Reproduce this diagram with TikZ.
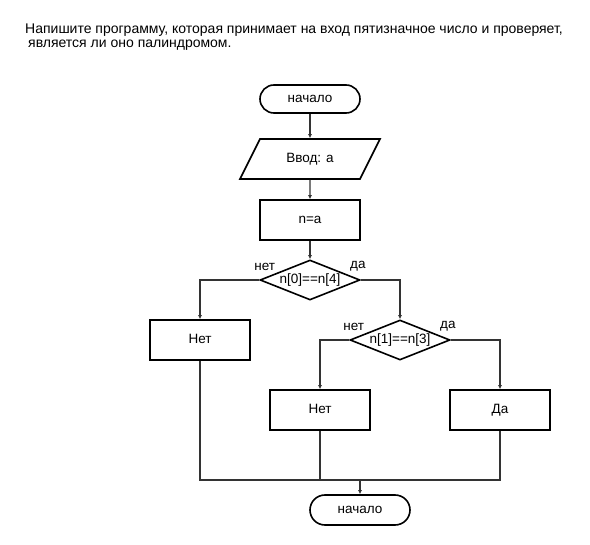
\documentclass[tikz,border=0pt]{standalone}
\usepackage{fontspec}
\setmainfont{Liberation Sans}
\usetikzlibrary{shapes.geometric,arrows.meta,positioning}

\definecolor{linegray}{HTML}{333333}

\tikzset{
	block/.style={draw,line width=1.6pt,minimum width=100pt,minimum height=40pt,inner sep=0pt,text height=10pt,text depth=3pt,font=\fontsize{13.5}{16}\selectfont},
	term/.style={block,rounded corners=14pt,minimum height=28pt},
	io/.style={block,trapezium,trapezium left angle=63.43,trapezium right angle=116.57,trapezium stretches body,inner ysep=13.5pt,minimum height=0pt,minimum width=140pt},
	cond/.style={block,diamond,aspect=2.5,minimum width=100pt,minimum height=40pt},
	lbl/.style={inner sep=0pt,font=\fontsize{13.5}{16}\selectfont},
	flow/.style={draw=linegray,line width=1.4pt},
	arr/.style={flow,-{Latex[length=4pt,width=4pt]}}
}

\begin{document}
\begin{tikzpicture}[x=1pt,y=-1pt]
	\useasboundingbox (0,0) rectangle (590,545);
	\node[anchor=base west,inner sep=0pt,font=\fontsize{14}{16}\selectfont] (taskone) at (25,34)
		{Напишите программу, которая принимает на вход пятизначное число и проверяет,};
	\node[anchor=base west,inner sep=0pt,font=\fontsize{14}{16}\selectfont] (tasktwo) at (28,48)
		{является ли оно палиндромом.};

	\node[term] (start) at (310,99) {начало};
	\node[io] (input) at (310,159) {Ввод: a};
	\node[block] (assign) at (310,220) {n=a};
	\node[cond] (firstcheck) at (310,280) {n[0]==n[4]};
	\node[block] (notfirst) at (200,340) {Нет};
	\node[cond] (secondcheck) at (400,340) {n[1]==n[3]};
	\node[block] (notsecond) at (320,410) {Нет};
	\node[block] (yes) at (500,410) {Да};
	\node[term,minimum height=30pt,rounded corners=15pt] (stop) at (360,510) {начало};
	\coordinate (join) at (360,480);

	\node[lbl,above right=9pt and -5pt of firstcheck.west] (firstno) {нет};
	\node[lbl,above left=9pt and -5pt of firstcheck.east] (firstyes) {да};
	\node[lbl,above right=9pt and -6pt of secondcheck.west] (secondno) {нет};
	\node[lbl,above left=9pt and -5pt of secondcheck.east] (secondyes) {да};

	\draw[arr] (start) -- (input);
	\draw[arr] (input) -- (assign);
	\draw[arr] (assign) -- (firstcheck);
	\draw[arr] (firstcheck.west) -| (notfirst.north);
	\draw[arr] (firstcheck.east) -| (secondcheck.north);
	\draw[arr] (secondcheck.west) -| (notsecond.north);
	\draw[arr] (secondcheck.east) -| (yes.north);
	\draw[flow] (notfirst.south) |- (join);
	\draw[flow] (notsecond.south) |- (join);
	\draw[flow] (yes.south) |- (join);
	\draw[arr] (join) -- (stop);
\end{tikzpicture}
\end{document}
